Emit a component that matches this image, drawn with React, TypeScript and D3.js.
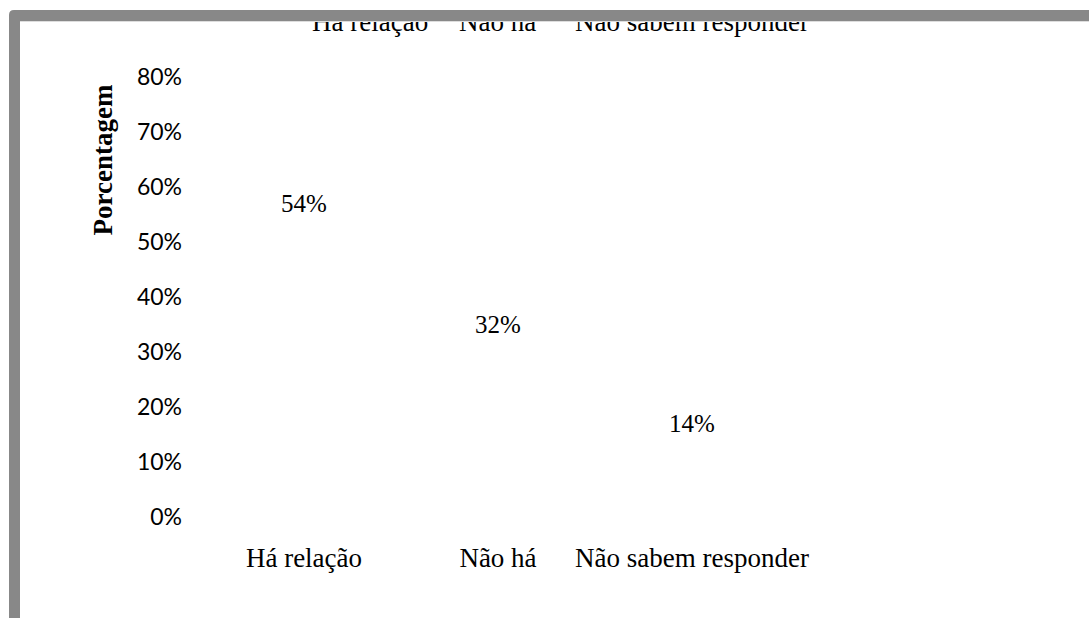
import React from "react";
import * as d3 from "d3";

const categories = ["Há relação", "Não há", "Não sabem responder"];
const values = [54, 32, 14];
const yTicks = [0, 10, 20, 30, 40, 50, 60, 70, 80];
const legendLabels = ["Há relação", "Não há", "Não sabem responder"];
const legendX = [312, 459, 575];
const yTitle = "Porcentagem";

const W = 1089;
const H = 618;

export default function App() {
  const x = d3.scaleBand<string>().domain(categories).range([207, 789]).paddingInner(0.3).paddingOuter(0.15);
  const y = d3.scaleLinear().domain([0, 80]).range([517, 77]);
  const serif = "'Liberation Serif', 'Times New Roman', serif";
  const sans = "Lato, 'Open Sans', sans-serif";
  return (
    <div style={{ position: "absolute", left: 0, top: 0 }}>
      <svg width={W} height={H} style={{ display: "block" }}>
        <rect x={0} y={0} width={W} height={H} fill="#fff" />
        {legendLabels.map((l, i) => (
          <text key={l} x={legendX[i]} y={31} fontFamily={serif} fontSize={27} fill="#000">
            {l}
          </text>
        ))}
        {categories.map((c, i) => (
          <rect key={c} x={x(c)} y={y(values[i])} width={x.bandwidth()} height={y(0) - y(values[i])} fill="#fff" />
        ))}
        {categories.map((c, i) => (
          <text key={c} x={(x(c) as number) + x.bandwidth() / 2} y={y(values[i]) - 8}
            textAnchor="middle" fontFamily={serif} fontSize={25} fill="#000">
            {values[i]}%
          </text>
        ))}
        {yTicks.map((t) => (
          <text key={t} x={182} y={y(t)} dy="0.35em" textAnchor="end" fontFamily={sans} fontSize={23} fill="#000">
            {t}%
          </text>
        ))}
        {categories.map((c) => (
          <text key={c} x={(x(c) as number) + x.bandwidth() / 2} y={567}
            textAnchor="middle" fontFamily={serif} fontSize={27} fill="#000">
            {c}
          </text>
        ))}
        <text transform={`translate(112,160) rotate(-90)`} textAnchor="middle" fontFamily={serif}
          fontWeight="bold" fontSize={27} fill="#000">
          {yTitle}
        </text>
        <path d={`M9,${H} L9,15 Q9,10 14,10 L${W},10 L${W},21 L20,21 L20,${H} Z`} fill="#888" />
        <line x1={20} y1={21.5} x2={W} y2={21.5} stroke="#ddd" strokeWidth={1} />
      </svg>
    </div>
  );
}
